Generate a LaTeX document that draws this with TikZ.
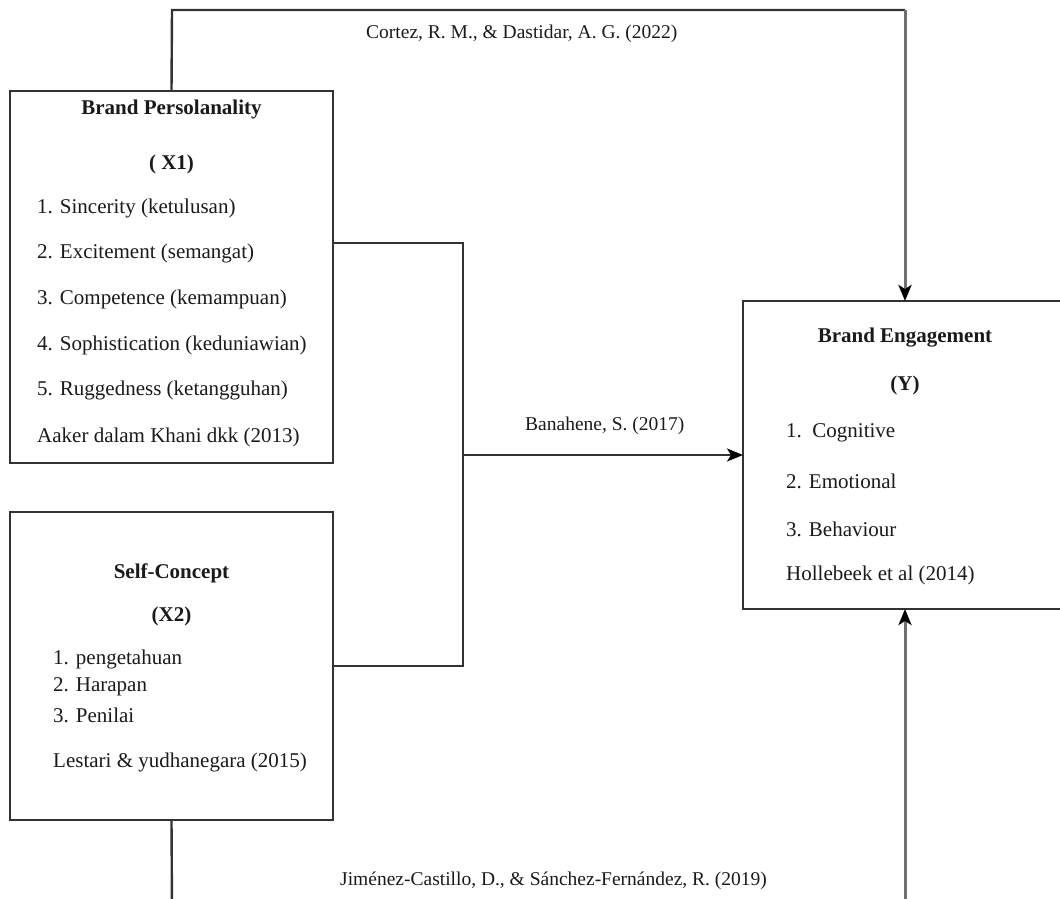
\documentclass[tikz,border=0pt]{standalone}
\usepackage{fontspec}
\setmainfont{Liberation Serif}
\usetikzlibrary{arrows.meta}
\definecolor{linegray}{HTML}{333333}
\definecolor{lightline}{HTML}{707070}
\definecolor{txtcol}{HTML}{1A1A1A}
\begin{document}
\begin{tikzpicture}[x=1pt,y=-1pt,
  box/.style={draw=linegray,line width=2.4pt,inner sep=0pt,outer sep=0pt,fill=white},
  title/.style={font=\fontsize{21}{25}\selectfont\bfseries,text=txtcol,inner sep=0pt},
  item/.style={font=\fontsize{21}{25}\selectfont,text=txtcol,inner sep=0pt,anchor=west},
  lbl/.style={font=\fontsize{19.5}{23}\selectfont,text=txtcol,inner sep=0pt,anchor=west},
  conn/.style={draw=linegray,line width=2.4pt},
  conngray/.style={draw=lightline,line width=3pt},
  tip/.style={-{Stealth[length=16pt,width=13pt,inset=4pt,color=black]}}
]
\useasboundingbox (0,0) rectangle (1060,898);

% boxes
\node[box,minimum width=323pt,minimum height=372pt] (x1) at (171.5,277) {};
\node[box,minimum width=323pt,minimum height=308pt] (x2) at (171.5,666) {};
\node[box,minimum width=324pt,minimum height=308pt] (be) at (905,455) {};

% helper coordinates
\coordinate (tl) at (172,10);
\coordinate (tr) at (905,10);
\coordinate (bl) at (172,910);
\coordinate (br) at (905,910);
\coordinate (j1) at (463,243);
\coordinate (j2) at (463,666);
\coordinate (jm) at (463,455);

% connectors
\draw[conn] (x1.north) -- (tl) -- (tr);
\draw[conngray,tip] (tr) -- (be.north);
\draw[conn] (x2.south) -- (bl);
\draw[conngray,tip] (br) -- (be.south);
\draw[conn] (x1.east |- j1) -- (j1) -- (j2) -- (x2.east);
\draw[conn,tip] (jm) -- (be.west);

% X1 text
\node[title] (x1t) at (171.5,109) {Brand Persolanality};
\node[title] (x1v) at (171.5,164) {( X1)};
\node[item] (x1a) at (37,208) {1. Sincerity (ketulusan)};
\node[item] (x1b) at (37,253) {2. Excitement (semangat)};
\node[item] (x1c) at (37,299) {3. Competence (kemampuan)};
\node[item] (x1d) at (37,345) {4. Sophistication (keduniawian)};
\node[item] (x1e) at (37,390) {5. Ruggedness (ketangguhan)};
\node[item] (x1s) at (37,437) {Aaker dalam Khani dkk (2013)};

% X2 text
\node[title] (x2t) at (171.5,573) {Self-Concept};
\node[title] (x2v) at (171.5,616) {(X2)};
\node[item] (x2a) at (53,659) {1. pengetahuan};
\node[item] (x2b) at (53,687) {2. Harapan};
\node[item] (x2c) at (53,715) {3. Penilai};
\node[item] (x2s) at (53,762) {Lestari \& yudhanegara (2015)};

% BE text
\node[title] (bet) at (905,338) {Brand Engagement};
\node[title] (bev) at (905,385) {(Y)};
\node[item] (bea) at (786,433) {1.\ \ Cognitive};
\node[item] (beb) at (786,481) {2. Emotional};
\node[item] (bec) at (786,529) {3. Behaviour};
\node[item] (bes) at (786,575) {Hollebeek et al (2014)};

% connector labels
\node[lbl] (l1) at (366,34) {Cortez, R. M., \& Dastidar, A. G. (2022)};
\node[lbl] (l2) at (525,426) {Banahene, S. (2017)};
\node[lbl] (l3) at (340,881) {Jiménez-Castillo, D., \& Sánchez-Fernández, R. (2019)};
\end{tikzpicture}
\end{document}
